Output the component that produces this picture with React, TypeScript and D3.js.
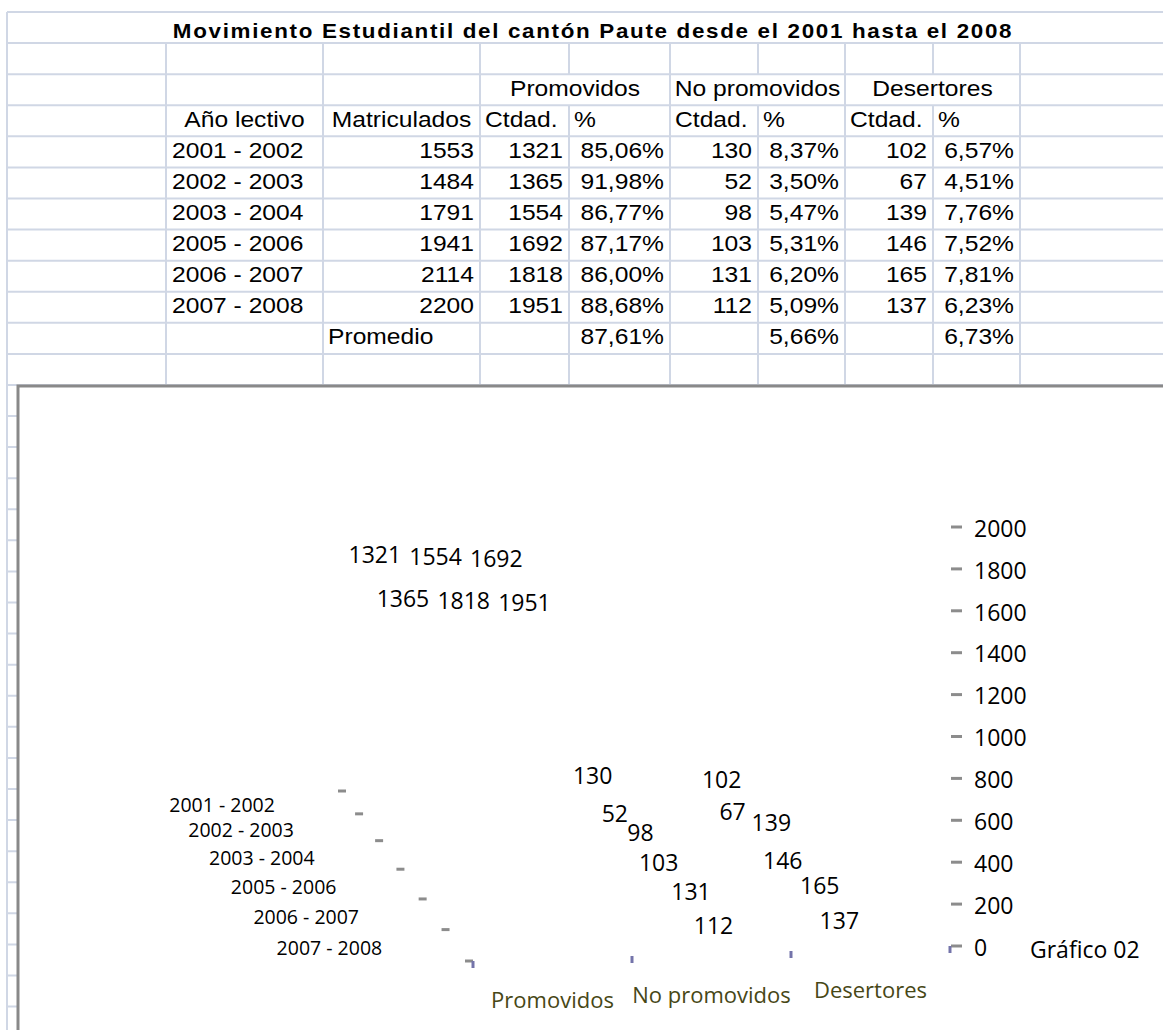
import React, { useMemo } from 'react';
import * as d3 from 'd3';

const title = 'Movimiento Estudiantil del cantón Paute desde el 2001 hasta el 2008';
const years = ['2001 - 2002', '2002 - 2003', '2003 - 2004', '2005 - 2006', '2006 - 2007', '2007 - 2008'];
const matriculados = [1553, 1484, 1791, 1941, 2114, 2200];
const promovidos = [1321, 1365, 1554, 1692, 1818, 1951];
const promovidosPct = ['85,06%', '91,98%', '86,77%', '87,17%', '86,00%', '88,68%'];
const noPromovidos = [130, 52, 98, 103, 131, 112];
const noPromovidosPct = ['8,37%', '3,50%', '5,47%', '5,31%', '6,20%', '5,09%'];
const desertores = [102, 67, 139, 146, 165, 137];
const desertoresPct = ['6,57%', '4,51%', '7,76%', '7,52%', '7,81%', '6,23%'];
const promedios = ['87,61%', '5,66%', '6,73%'];
const groups = ['Promovidos', 'No promovidos', 'Desertores'];
const valueTicks = [0, 200, 400, 600, 800, 1000, 1200, 1400, 1600, 1800, 2000];
const chartNote = 'Gráfico 02';

const GRID = '#d0d7e5';
const TABLE_FONT = "'Liberation Sans', Arial, sans-serif";
const CHART_FONT = "'Open Sans', 'Noto Sans', sans-serif";

// spreadsheet text is drawn a bit wider than plain Arial
const Cell = ({ x, y, anchor = 'start', bold = false, spacing = 0, children }: any) => (
  <g transform={`translate(${x},${y}) scale(1.12,1)`}>
    <text
      textAnchor={anchor}
      fontFamily={TABLE_FONT}
      fontSize={bold ? 20 : 22}
      fontWeight={bold ? 'bold' : 'normal'}
      letterSpacing={spacing}
      fill="#000"
    >
      {children}
    </text>
  </g>
);

export default function App() {
  const W = 1163;
  const H = 1030;

  // sheet geometry
  const cols = [7, 166, 323, 480, 569, 670, 758, 845, 933, 1020, 1163];
  const row = d3.scaleLinear().domain([0, 1]).range([12, 43.08]);
  const base = (k: number) => row(k) + 21.5;
  const nRows = d3.range(0, 34).filter(k => row(k) <= H);

  // chart scales (3D floor seen from front-right)
  const valueY = d3.scaleLinear().domain([0, 2000]).range([946, 527]);
  const edgeX = d3.scaleLinear().domain([0, 3]).range([473, 950]);
  const edgeY = d3.scaleLinear().domain([0, 3]).range([961, 946]);
  const depthT = d3.scalePow().exponent(1.12).domain([0, 6]).range([0, 1]);
  const depthPt = (j: number) => d3.interpolate([346, 791], [473, 961])(depthT(j));

  const seriesByGroup = [promovidos, noPromovidos, desertores];
  const merged = new Set([4, 6, 8]);

  // data labels: project bar tops, then push overlapping labels apart
  // (collision runs with x squeezed so the circles act like wide ellipses)
  const labels = useMemo(() => {
    const labCatX = d3.scaleLinear().domain([0, 2]).range([471.3, 726.9]);
    const labDepthX = d3.scaleLinear().domain([0, 5]).range([0, 116.75]);
    const labDepthY = d3.scaleLinear().domain([0, 5]).range([798.75, 941.25]);
    const labValX = d3.scaleLinear().domain([0, 2000]).range([0, -99]);
    const labValY = d3.scaleLinear().domain([0, 2000]).range([0, -360]);
    const squeeze = 1.22;

    const nodes: any[] = [];
    seriesByGroup.forEach((vals, c) =>
      vals.forEach((v, j) => {
        const ax = (labCatX(c) + labDepthX(j) + labValX(v)) / squeeze;
        const ay = labDepthY(j) + labValY(v);
        const half = String(v).length * 6.6 + 4;
        nodes.push({ key: `${c}-${j}`, v, ax, ay, x: ax, y: ay, r: half / squeeze });
      })
    );
    const sim = d3
      .forceSimulation(nodes)
      .force('x', d3.forceX((d: any) => d.ax).strength(0.1))
      .force('y', d3.forceY((d: any) => d.ay).strength(0.1))
      .force('collide', d3.forceCollide((d: any) => d.r).strength(1).iterations(4))
      .stop();
    for (let i = 0; i < 400; i++) sim.tick();
    return nodes.map(d => ({ ...d, x: d.x * squeeze }));
  }, []);

  return (
    <svg width={W} height={H} style={{ position: 'absolute', left: 0, top: 0, background: '#fff' }}>
      <rect width={W} height={H} fill="#fff" />

      {/* grid */}
      <g stroke={GRID} strokeWidth={2}>
        {nRows.map(k => (
          <line key={'h' + k} x1={cols[0]} x2={W} y1={row(k)} y2={row(k)} />
        ))}
        <line x1={cols[0]} x2={cols[0]} y1={row(0)} y2={H} />
        {cols.slice(1, 10).map((x, i) => {
          const c = i + 1;
          return merged.has(c) ? (
            <g key={'v' + c}>
              <line x1={x} x2={x} y1={row(1)} y2={row(2)} />
              <line x1={x} x2={x} y1={row(3)} y2={row(12)} />
            </g>
          ) : (
            <line key={'v' + c} x1={x} x2={x} y1={row(1)} y2={row(12)} />
          );
        })}
      </g>

      {/* table text */}
      <Cell x={(cols[1] + cols[9]) / 2} y={row(0) + 26} anchor="middle" bold spacing={1.5}>
        {title}
      </Cell>
      {groups.map((g, i) => (
        <Cell key={g} x={(cols[3 + 2 * i] + cols[5 + 2 * i]) / 2} y={base(2)} anchor="middle">
          {g}
        </Cell>
      ))}
      <Cell x={(cols[1] + cols[2]) / 2} y={base(3)} anchor="middle">Año lectivo</Cell>
      <Cell x={(cols[2] + cols[3]) / 2} y={base(3)} anchor="middle">Matriculados</Cell>
      {[3, 5, 7].map(c => (
        <g key={'hd' + c}>
          <Cell x={cols[c] + 5} y={base(3)}>Ctdad.</Cell>
          <Cell x={cols[c + 1] + 5} y={base(3)}>%</Cell>
        </g>
      ))}
      {years.map((yr, i) => {
        const y = base(4 + i);
        return (
          <g key={yr}>
            <Cell x={cols[1] + 6} y={y}>{yr}</Cell>
            <Cell x={cols[3] - 6} y={y} anchor="end">{matriculados[i]}</Cell>
            <Cell x={cols[4] - 6} y={y} anchor="end">{promovidos[i]}</Cell>
            <Cell x={cols[5] - 6} y={y} anchor="end">{promovidosPct[i]}</Cell>
            <Cell x={cols[6] - 6} y={y} anchor="end">{noPromovidos[i]}</Cell>
            <Cell x={cols[7] - 6} y={y} anchor="end">{noPromovidosPct[i]}</Cell>
            <Cell x={cols[8] - 6} y={y} anchor="end">{desertores[i]}</Cell>
            <Cell x={cols[9] - 6} y={y} anchor="end">{desertoresPct[i]}</Cell>
          </g>
        );
      })}
      <Cell x={cols[2] + 5} y={base(10)}>Promedio</Cell>
      {promedios.map((p, i) => (
        <Cell key={'pm' + i} x={cols[5 + 2 * i] - 6} y={base(10)} anchor="end">{p}</Cell>
      ))}

      {/* chart area */}
      <rect x={18} y={386} width={1300} height={800} fill="#fff" stroke="#898989" strokeWidth={3} />

      <g fontFamily={CHART_FONT}>
        {/* value axis */}
        {valueTicks.map(v => (
          <g key={'vt' + v}>
            <line x1={951} x2={962} y1={valueY(v)} y2={valueY(v)} stroke="#8c8c8c" strokeWidth={3} />
            <text x={974} y={valueY(v) + 1.5} dy="0.36em" fontSize={23} fill="#000">{v}</text>
          </g>
        ))}

        {/* depth axis */}
        {d3.range(0, 7).map(j => {
          const [x, y] = depthPt(j);
          return <line key={'dt' + j} x1={x - 8} x2={x} y1={y} y2={y} stroke="#8c8c8c" strokeWidth={3} />;
        })}
        {years.map((yr, j) => {
          const [x, y] = depthPt(j + 0.5);
          return (
            <text key={'dl' + j} x={x - 79} y={y + 3} dy="0.36em" textAnchor="end" fontSize={19.5} fill="#000">
              {yr}
            </text>
          );
        })}

        {/* category axis */}
        {d3.range(0, 4).map(k => (
          <line key={'ct' + k} x1={edgeX(k)} x2={edgeX(k)} y1={edgeY(k)} y2={edgeY(k) + 7} stroke="#7474aa" strokeWidth={3} />
        ))}
        {groups.map((g, k) => (
          <text
            key={'cl' + k}
            x={edgeX(k + 0.5)}
            y={edgeY(k + 0.5) + 42}
            dy="0.36em"
            textAnchor="middle"
            fontSize={22}
            fill="#474716"
          >
            {g}
          </text>
        ))}

        {/* data labels */}
        {labels.map(d => (
          <text key={'lb' + d.key} x={d.x} y={d.y} dy="0.36em" textAnchor="middle" fontSize={23} fill="#000">
            {d.v}
          </text>
        ))}

        <text x={1030} y={950} dy="0.36em" fontSize={23} fill="#000">{chartNote}</text>
      </g>
    </svg>
  );
}
